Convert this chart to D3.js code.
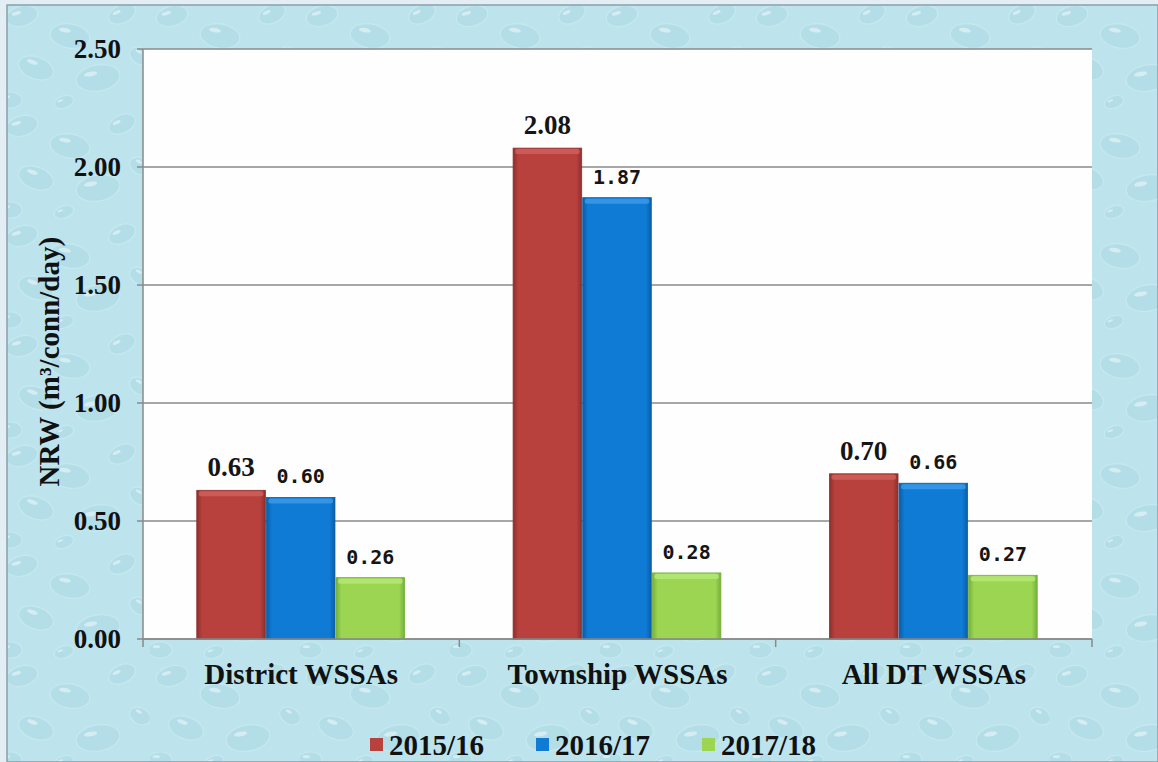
<!DOCTYPE html>
<html>
<head>
<meta charset="utf-8">
<script src="https://cdn.jsdelivr.net/npm/d3@7"></script>
<style>
  body { margin: 0; background: #e3eef4; }
  svg { display: block; }
</style>
</head>
<body>
<div id="chart"></div>
<script>
// data
var categories = ['District WSSAs', 'Township WSSAs', 'All DT WSSAs'];
var seriesNames = ['2015/16', '2016/17', '2017/18'];
var values2015 = [0.63, 2.08, 0.70];
var values2016 = [0.60, 1.87, 0.66];
var values2017 = [0.26, 0.28, 0.27];
var yTicks = [0, 0.5, 1, 1.5, 2, 2.5];

var allSeries = [values2015, values2016, values2017];
var colors = ['#b8413e', '#0f7bd5', '#9bd552'];
var darks = ['#8e2f2c', '#0a5ea6', '#74b03a'];
var lights = ['#d0625e', '#3d9bea', '#b6e87a'];
var labelFonts = ['"Liberation Serif", "Times New Roman", serif', '"DejaVu Sans Mono", monospace', '"DejaVu Sans Mono", monospace'];
var labelSizes = [27, 20, 20];

var width = 1158, height = 762;
var margin = {top: 49, right: 66, bottom: 123, left: 143};
var serif = '"Liberation Serif", "Times New Roman", serif';

var svg = d3.select('#chart').append('svg')
    .attr('width', width)
    .attr('height', height);

var defs = svg.append('defs');

// water droplet texture, kept soft
var pat = defs.append('pattern')
    .attr('id', 'drops')
    .attr('patternUnits', 'userSpaceOnUse')
    .attr('width', 150)
    .attr('height', 110);
pat.append('rect').attr('width', 150).attr('height', 110).attr('fill', '#bde4ec');
var drops = [[22, 16, 16, 10, -15], [70, 36, 20, 12, 10], [122, 14, 14, 9, -25], [36, 68, 18, 11, 20], [98, 78, 22, 13, -10], [140, 56, 11, 8, 30], [10, 100, 12, 8, 0], [64, 102, 10, 6, -20]];
drops.forEach(function(d) {
    var dg = pat.append('g').attr('transform', 'translate(' + d[0] + ',' + d[1] + ') rotate(' + d[4] + ')');
    dg.append('ellipse')
        .attr('rx', d[2]).attr('ry', d[3])
        .attr('fill', '#a6d6e2').attr('opacity', 0.45)
        .attr('stroke', '#dff3f7').attr('stroke-width', 1.2).attr('stroke-opacity', 0.7);
    dg.append('ellipse')
        .attr('cx', -d[2] * 0.3).attr('cy', -d[3] * 0.4)
        .attr('rx', d[2] * 0.3).attr('ry', d[3] * 0.18)
        .attr('fill', '#ffffff').attr('opacity', 0.45);
});

svg.append('rect')
    .attr('x', 7).attr('y', 5)
    .attr('width', width - 7).attr('height', height - 5)
    .attr('fill', 'url(#drops)')
    .attr('stroke', '#8d9ea6').attr('stroke-width', 1.5);

// bar gradients
colors.forEach(function(c, i) {
    var g = defs.append('linearGradient')
        .attr('id', 'bar' + i)
        .attr('x1', '0%').attr('x2', '100%');
    g.append('stop').attr('offset', '0%').attr('stop-color', darks[i]);
    g.append('stop').attr('offset', '8%').attr('stop-color', c);
    g.append('stop').attr('offset', '50%').attr('stop-color', c);
    g.append('stop').attr('offset', '92%').attr('stop-color', c);
    g.append('stop').attr('offset', '100%').attr('stop-color', darks[i]);
});

var plotW = width - margin.left - margin.right,
    plotH = height - margin.top - margin.bottom;

var g = svg.append('g')
    .attr('transform', 'translate(' + margin.left + ',' + margin.top + ')');

var x0 = d3.scaleBand().domain(categories).range([0, plotW]).paddingInner(0).paddingOuter(0);
var x1 = d3.scaleBand().domain(d3.range(seriesNames.length))
    .range([x0.bandwidth() * 0.17, x0.bandwidth() * 0.83]).padding(0);
var y = d3.scaleLinear().domain([0, 2.5]).range([plotH, 0]);

g.append('rect')
    .attr('width', plotW).attr('height', plotH)
    .attr('fill', '#fefefe');

// gridlines
g.selectAll('.grid')
    .data(yTicks)
    .enter().append('line')
    .attr('x1', -6).attr('x2', plotW)
    .attr('y1', function(d) { return y(d); })
    .attr('y2', function(d) { return y(d); })
    .attr('stroke', '#8a8a8a')
    .attr('stroke-width', 1.5);

// y axis line
g.append('line')
    .attr('x1', 0).attr('x2', 0).attr('y1', 0).attr('y2', plotH)
    .attr('stroke', '#8a8a8a').attr('stroke-width', 1.5);

// y tick labels
g.selectAll('.ytick')
    .data(yTicks)
    .enter().append('text')
    .attr('x', -22)
    .attr('y', function(d) { return y(d); })
    .attr('dy', '0.35em')
    .attr('text-anchor', 'end')
    .attr('font-family', serif)
    .attr('font-weight', 'bold')
    .attr('font-size', 27)
    .attr('fill', '#111')
    .text(function(d) { return d3.format('.2f')(d); });

// x category ticks
var bounds = categories.map(function(c) { return x0(c); }).concat([plotW]);
g.selectAll('.xtick')
    .data(bounds)
    .enter().append('line')
    .attr('x1', function(d) { return d; }).attr('x2', function(d) { return d; })
    .attr('y1', plotH).attr('y2', plotH + 8)
    .attr('stroke', '#8a8a8a').attr('stroke-width', 1.5);

// bars
var groups = g.selectAll('.group')
    .data(categories)
    .enter().append('g')
    .attr('transform', function(c) { return 'translate(' + x0(c) + ',0)'; });

groups.each(function(c, ci) {
    var grp = d3.select(this);
    allSeries.forEach(function(vals, si) {
        var v = vals[ci];
        var bx = x1(si), bw = x1.bandwidth() - 1;
        grp.append('rect')
            .attr('x', bx).attr('y', y(v))
            .attr('width', bw).attr('height', plotH - y(v))
            .attr('fill', 'url(#bar' + si + ')')
            .attr('stroke', darks[si]).attr('stroke-width', 0.8);
        grp.append('rect')
            .attr('x', bx + 2).attr('y', y(v) + 1)
            .attr('width', bw - 4).attr('height', 5)
            .attr('rx', 2)
            .attr('fill', lights[si]).attr('opacity', 0.8);
        grp.append('text')
            .attr('x', bx + bw / 2)
            .attr('y', y(v) - 14)
            .attr('text-anchor', 'middle')
            .attr('font-family', labelFonts[si])
            .attr('font-weight', 'bold')
            .attr('font-size', labelSizes[si])
            .attr('fill', '#151515')
            .text(d3.format('.2f')(v));
    });
});

// bottom axis line
g.append('line')
    .attr('x1', 0).attr('x2', plotW).attr('y1', plotH).attr('y2', plotH)
    .attr('stroke', '#8a8a8a').attr('stroke-width', 1.5);

// category labels
g.selectAll('.xlabel')
    .data(categories)
    .enter().append('text')
    .attr('x', function(c) { return x0(c) + x0.bandwidth() / 2; })
    .attr('y', plotH + 45)
    .attr('text-anchor', 'middle')
    .attr('font-family', serif)
    .attr('font-weight', 'bold')
    .attr('font-size', 29)
    .attr('fill', '#111')
    .text(function(c) { return c; });

// y title
svg.append('text')
    .attr('transform', 'translate(59,' + (margin.top + plotH * 0.53) + ') rotate(-90)')
    .attr('text-anchor', 'middle')
    .attr('font-family', serif)
    .attr('font-weight', 'bold')
    .attr('font-size', 29)
    .attr('fill', '#111')
    .text('NRW (m³/conn/day)');

// legend
var legend = svg.append('g').attr('transform', 'translate(370,745)');
seriesNames.forEach(function(name, i) {
    var item = legend.append('g').attr('transform', 'translate(' + (i * 166) + ',0)');
    item.append('rect')
        .attr('x', 0).attr('y', -7)
        .attr('width', 13).attr('height', 13)
        .attr('fill', colors[i]);
    item.append('text')
        .attr('x', 19).attr('y', 0)
        .attr('dy', '0.35em')
        .attr('font-family', serif)
        .attr('font-weight', 'bold')
        .attr('font-size', 29)
        .attr('fill', '#111')
        .text(name);
});
</script>
</body>
</html>
